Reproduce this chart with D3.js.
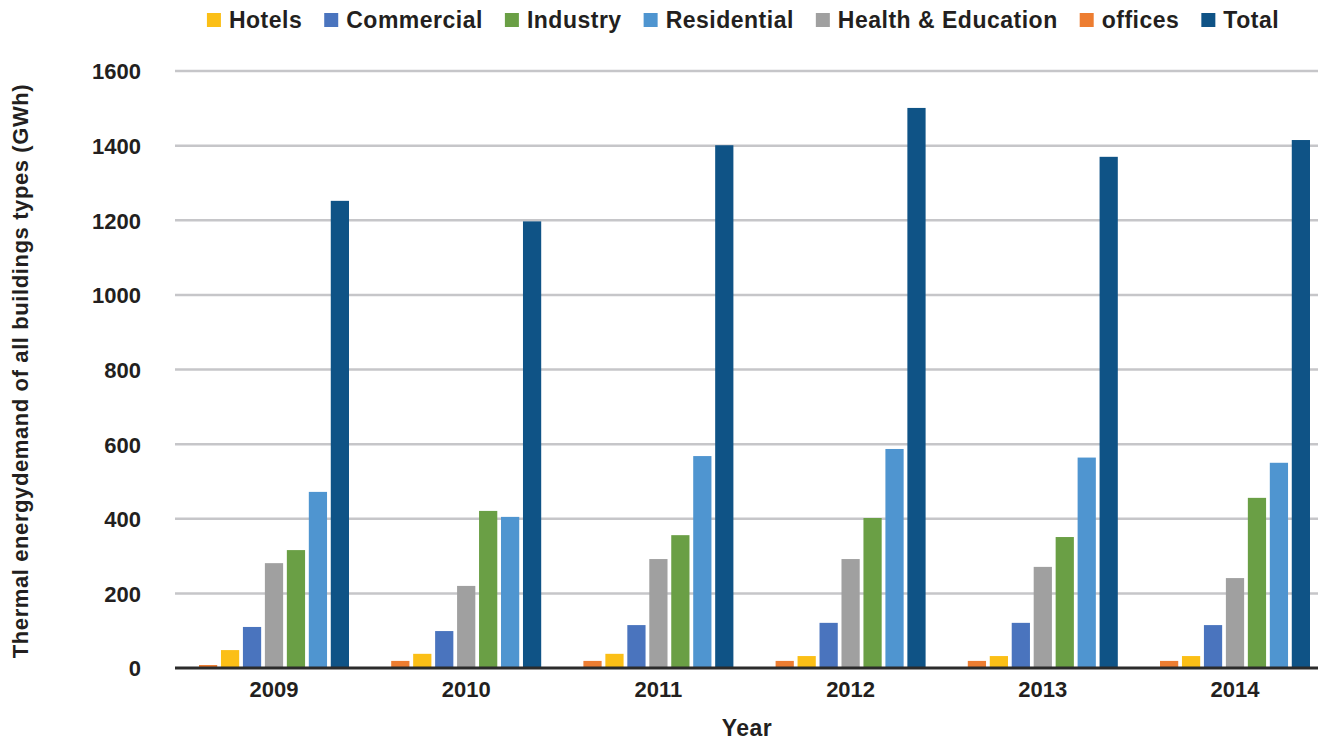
<!DOCTYPE html>
<html>
<head>
<meta charset="utf-8">
<script src="https://cdn.jsdelivr.net/npm/d3@7"></script>
<style>
  html, body { margin: 0; padding: 0; background: #fff; }
  svg text { font-family: "Liberation Sans", Arial, Helvetica, sans-serif; font-weight: bold; fill: #231f20; }
</style>
</head>
<body>
<svg id="chart" width="1320" height="742"></svg>
<script>
// ---- data ----
const years = ["2009", "2010", "2011", "2012", "2013", "2014"];
const seriesOrder = ["offices", "Hotels", "Commercial", "Health & Education", "Industry", "Residential", "Total"];
const legendOrder = ["Hotels", "Commercial", "Industry", "Residential", "Health & Education", "offices", "Total"];
const offices     = [8, 19, 19, 19, 19, 19];
const hotels      = [48, 38, 38, 32, 32, 32];
const commercial  = [110, 99, 115, 121, 121, 115];
const health      = [281, 220, 292, 292, 271, 241];
const industry    = [316, 421, 356, 402, 351, 456];
const residential = [472, 405, 568, 587, 564, 550];
const total       = [1252, 1197, 1401, 1501, 1370, 1415];
const yTicks = [0, 200, 400, 600, 800, 1000, 1200, 1400, 1600];
const colors = {
  "offices": "#ED7D31",
  "Hotels": "#FBBF16",
  "Commercial": "#4A74BE",
  "Health & Education": "#A0A0A0",
  "Industry": "#6A9F45",
  "Residential": "#4F95D0",
  "Total": "#0F5386"
};
const valuesBySeries = {
  "offices": offices, "Hotels": hotels, "Commercial": commercial,
  "Health & Education": health, "Industry": industry,
  "Residential": residential, "Total": total
};

// ---- layout ----
const svg = d3.select("#chart");
const plotLeft = 175, plotRight = 1318, plotTop = 71, plotBottom = 668;
const groupStep = 192.2;

const y = d3.scaleLinear().domain([0, 1600]).range([plotBottom, plotTop]);
const x0 = d3.scaleBand().domain(years).range([178, 178 + groupStep * years.length]).padding(0);
const x1 = d3.scaleBand().domain(seriesOrder).range([21, 171]).paddingInner(0.17).paddingOuter(0);

// gridlines
svg.append("g").selectAll("line").data(yTicks.filter(t => t > 0)).join("line")
  .attr("x1", plotLeft).attr("x2", plotRight)
  .attr("y1", d => y(d)).attr("y2", d => y(d))
  .attr("stroke", "#c6c6c9").attr("stroke-width", 2.5);

// y axis labels via d3 axis
const yAxis = svg.append("g").attr("transform", `translate(${plotLeft},0)`)
  .call(d3.axisLeft(y).tickValues(yTicks).tickFormat(d3.format("d")).tickSize(0).tickPadding(34));
yAxis.select(".domain").remove();
yAxis.selectAll("text").attr("font-size", 22).attr("dy", "0.36em")
  .style("font-family", "'Liberation Sans', Arial, sans-serif").style("font-weight", "bold").attr("fill", "#231f20");

// bars
const data = years.map((yr, i) => ({ year: yr, vals: seriesOrder.map(s => ({ key: s, value: valuesBySeries[s][i] })) }));
const groups = svg.append("g").selectAll("g").data(data).join("g")
  .attr("transform", d => `translate(${x0(d.year)},0)`);
groups.selectAll("rect").data(d => d.vals).join("rect")
  .attr("x", d => x1(d.key))
  .attr("width", x1.bandwidth())
  .attr("y", d => y(d.value))
  .attr("height", d => y(0) - y(d.value))
  .attr("fill", d => colors[d.key]);

// x axis line
svg.append("line").attr("x1", plotLeft).attr("x2", plotRight)
  .attr("y1", plotBottom).attr("y2", plotBottom)
  .attr("stroke", "#2b2b2b").attr("stroke-width", 3);

// x axis labels
const xAxis = svg.append("g").attr("transform", `translate(0,${plotBottom})`)
  .call(d3.axisBottom(x0).tickSize(0).tickPadding(13)
    .tickFormat(d => d));
xAxis.select(".domain").remove();
xAxis.selectAll(".tick").attr("transform", d => `translate(${x0(d) + x1("offices") + (x1("Total") + x1.bandwidth() - x1("offices")) / 2},0)`);
xAxis.selectAll("text").attr("font-size", 22)
  .style("font-family", "'Liberation Sans', Arial, sans-serif").style("font-weight", "bold").attr("fill", "#231f20");

// axis titles
svg.append("text").attr("x", 747).attr("y", 736).attr("text-anchor", "middle")
  .attr("font-size", 23).attr("letter-spacing", 0.5).text("Year");
svg.append("text").attr("transform", "translate(28,371) rotate(-90)").attr("text-anchor", "middle")
  .attr("font-size", 22).attr("letter-spacing", 0.6).text("Thermal energydemand of all buildings types (GWh)");

// legend
const legend = svg.append("g");
let lx = 0;
legendOrder.forEach(name => {
  const g = legend.append("g");
  g.append("rect").attr("x", 0).attr("y", -7).attr("width", 14).attr("height", 14).attr("fill", colors[name]);
  const t = g.append("text").attr("x", 22).attr("y", 0).attr("dy", "0.36em")
    .attr("font-size", 23).attr("letter-spacing", 0.5).text(name);
  const w = 22 + t.node().getComputedTextLength();
  g.attr("transform", `translate(${lx},20)`);
  lx += w + 22;
});
const legendWidth = lx - 22;
legend.attr("transform", `translate(${743 - legendWidth / 2},0)`);
</script>
</body>
</html>
